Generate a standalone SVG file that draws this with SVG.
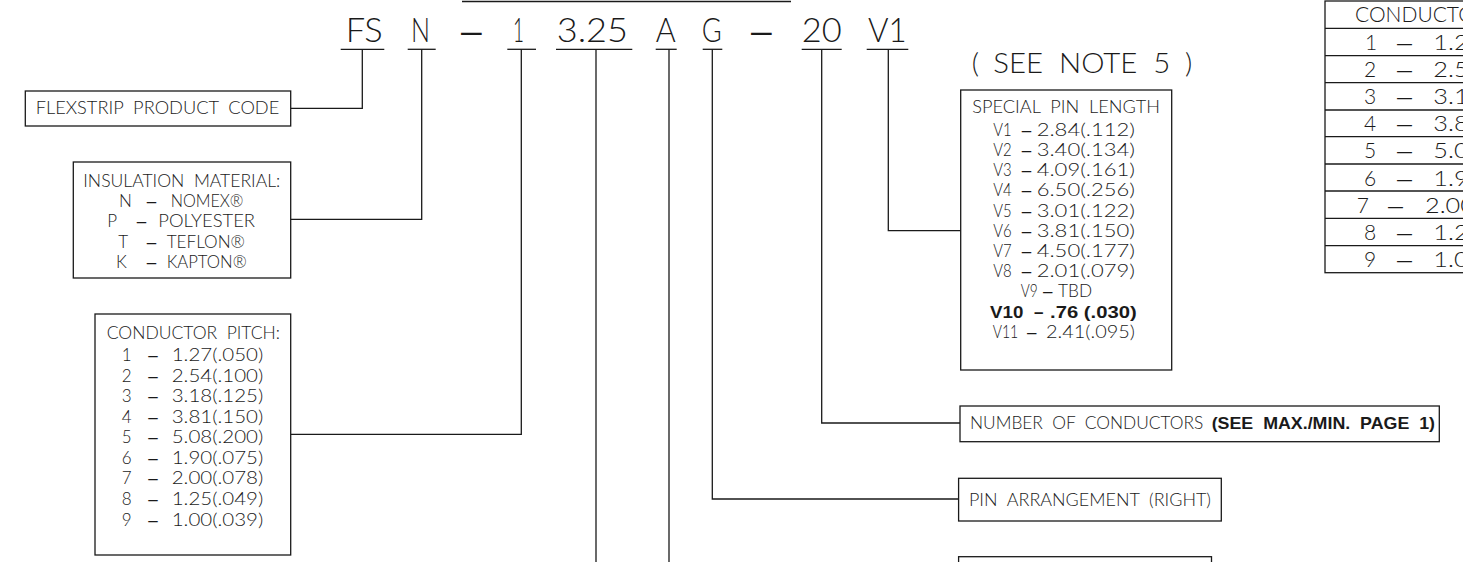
<svg xmlns="http://www.w3.org/2000/svg" width="1463" height="562" viewBox="0 0 1463 562">
<style>
  text { font-family: Lato, "Liberation Sans", Arial, sans-serif; font-weight: 300; fill: #1a1a1a; }
  .t { font-size: 17px; }
  .b { font-size: 17px; font-weight: bold; font-family: "Liberation Sans", Arial, sans-serif; }
  .code { font-size: 34px; }
  .note { font-size: 28px; }
  .tbl { font-size: 21px; }
  text.d { font-family: "Liberation Sans", Arial, sans-serif; font-weight: normal; }
  .box { fill: #fff; stroke: #1a1a1a; stroke-width: 1.3; }
  .ln { fill: none; stroke: #1a1a1a; stroke-width: 1.3; }
</style>
<rect width="1463" height="562" fill="#fff"/>

<g id="code">
  <line class="ln" x1="462" y1="1.5" x2="791" y2="1.5"/>
  <text class="code" x="345.7" y="42" textLength="37" lengthAdjust="spacingAndGlyphs">FS</text>
  <text class="code" x="411" y="42" textLength="19" lengthAdjust="spacingAndGlyphs">N</text>
  <text class="code d" x="461" y="42" textLength="20.7" lengthAdjust="spacingAndGlyphs">–</text>
  <text class="code" x="513" y="42" textLength="11" lengthAdjust="spacingAndGlyphs">1</text>
  <text class="code" x="556.7" y="42" textLength="71.3" lengthAdjust="spacingAndGlyphs">3.25</text>
  <text class="code" x="655.7" y="42" textLength="20" lengthAdjust="spacingAndGlyphs">A</text>
  <text class="code" x="701.7" y="42" textLength="20" lengthAdjust="spacingAndGlyphs">G</text>
  <text class="code d" x="751" y="42" textLength="20.7" lengthAdjust="spacingAndGlyphs">–</text>
  <text class="code" x="801.7" y="42" textLength="40" lengthAdjust="spacingAndGlyphs">20</text>
  <text class="code" x="868" y="42" textLength="38.7" lengthAdjust="spacingAndGlyphs">V1</text>
  <line class="ln" x1="340.7" y1="49.3" x2="384.3" y2="49.3"/>
  <line class="ln" x1="407.7" y1="49.3" x2="435.7" y2="49.3"/>
  <line class="ln" x1="507.3" y1="49.3" x2="536" y2="49.3"/>
  <line class="ln" x1="556" y1="49.3" x2="632.3" y2="49.3"/>
  <line class="ln" x1="655.7" y1="49.3" x2="676.7" y2="49.3"/>
  <line class="ln" x1="702.7" y1="49.3" x2="722.3" y2="49.3"/>
  <line class="ln" x1="801.7" y1="49.3" x2="841.7" y2="49.3"/>
  <line class="ln" x1="866.7" y1="49.3" x2="908.3" y2="49.3"/>
</g>

<g id="connectors">
  <polyline class="ln" points="362.3,49.3 362.3,108.3 290.7,108.3"/>
  <polyline class="ln" points="421.7,49.3 421.7,219.3 290.7,219.3"/>
  <polyline class="ln" points="521.3,49.3 521.3,434.3 290.7,434.3"/>
  <line class="ln" x1="596" y1="49.3" x2="596" y2="562"/>
  <line class="ln" x1="669" y1="49.3" x2="669" y2="562"/>
  <polyline class="ln" points="712.3,49.3 712.3,499 958.6,499"/>
  <polyline class="ln" points="821.7,49.3 821.7,423 960,423"/>
  <polyline class="ln" points="888.3,49.3 888.3,230.7 960.7,230.7"/>
</g>

<g id="flexstrip">
  <rect class="box" x="25.3" y="91" width="265.4" height="35"/>
  <text class="t" x="35.7" y="114" textLength="243.6" lengthAdjust="spacingAndGlyphs" xml:space="preserve">FLEXSTRIP  PRODUCT  CODE</text>
</g>

<g id="insulation">
  <rect class="box" x="73.3" y="162" width="217.4" height="116"/>
  <text class="t" x="83.3" y="186.7" textLength="197" lengthAdjust="spacingAndGlyphs" xml:space="preserve">INSULATION  MATERIAL:</text>
  <text class="t" x="119" y="207.3">N</text><text class="t d" x="146.7" y="207.3">–</text><text class="t" x="170.7" y="207.3" textLength="72.6" lengthAdjust="spacingAndGlyphs">NOMEX®</text>
  <text class="t" x="107.3" y="227.3">P</text><text class="t d" x="136.7" y="227.3">–</text><text class="t" x="158.3" y="227.3" textLength="96.7" lengthAdjust="spacingAndGlyphs">POLYESTER</text>
  <text class="t" x="118.3" y="248.3">T</text><text class="t d" x="146.7" y="248.3">–</text><text class="t" x="166.7" y="248.3" textLength="78.3" lengthAdjust="spacingAndGlyphs">TEFLON®</text>
  <text class="t" x="116" y="268.3">K</text><text class="t d" x="146.7" y="268.3">–</text><text class="t" x="166.7" y="268.3" textLength="80" lengthAdjust="spacingAndGlyphs">KAPTON®</text>
</g>

<g id="pitch">
  <rect class="box" x="95" y="314" width="195.7" height="241"/>
  <text class="t" x="106.7" y="339.3" textLength="173.3" lengthAdjust="spacingAndGlyphs" xml:space="preserve">CONDUCTOR  PITCH:</text>
  <text class="t" x="121.7" y="361">1</text><text class="t d" x="148.3" y="361">–</text><text class="t" x="171.7" y="361" textLength="91.6" lengthAdjust="spacingAndGlyphs">1.27(.050)</text>
  <text class="t" x="121.7" y="381.7">2</text><text class="t d" x="148.3" y="381.7">–</text><text class="t" x="171.7" y="381.7" textLength="91.6" lengthAdjust="spacingAndGlyphs">2.54(.100)</text>
  <text class="t" x="121.7" y="402.3">3</text><text class="t d" x="148.3" y="402.3">–</text><text class="t" x="171.7" y="402.3" textLength="91.6" lengthAdjust="spacingAndGlyphs">3.18(.125)</text>
  <text class="t" x="121.7" y="422.7">4</text><text class="t d" x="148.3" y="422.7">–</text><text class="t" x="171.7" y="422.7" textLength="91.6" lengthAdjust="spacingAndGlyphs">3.81(.150)</text>
  <text class="t" x="121.7" y="443.3">5</text><text class="t d" x="148.3" y="443.3">–</text><text class="t" x="171.7" y="443.3" textLength="91.6" lengthAdjust="spacingAndGlyphs">5.08(.200)</text>
  <text class="t" x="121.7" y="464">6</text><text class="t d" x="148.3" y="464">–</text><text class="t" x="171.7" y="464" textLength="91.6" lengthAdjust="spacingAndGlyphs">1.90(.075)</text>
  <text class="t" x="121.7" y="484.3">7</text><text class="t d" x="148.3" y="484.3">–</text><text class="t" x="171.7" y="484.3" textLength="91.6" lengthAdjust="spacingAndGlyphs">2.00(.078)</text>
  <text class="t" x="121.7" y="505">8</text><text class="t d" x="148.3" y="505">–</text><text class="t" x="171.7" y="505" textLength="91.6" lengthAdjust="spacingAndGlyphs">1.25(.049)</text>
  <text class="t" x="121.7" y="525.7">9</text><text class="t d" x="148.3" y="525.7">–</text><text class="t" x="171.7" y="525.7" textLength="91.6" lengthAdjust="spacingAndGlyphs">1.00(.039)</text>
</g>

<g id="see-note">
  <text class="note" x="971.7" y="73.3">(</text>
  <text class="note" x="993.3" y="73.3" textLength="177" lengthAdjust="spacingAndGlyphs" xml:space="preserve">SEE  NOTE  5</text>
  <text class="note" x="1185" y="73.3">)</text>
</g>

<g id="special-pin">
  <rect class="box" x="960.7" y="90" width="211" height="280"/>
  <text class="t" x="972.3" y="112.7" textLength="187.7" lengthAdjust="spacingAndGlyphs" xml:space="preserve">SPECIAL  PIN  LENGTH</text>
  <text class="t" x="993.3" y="135.7" textLength="18.4" lengthAdjust="spacingAndGlyphs">V1</text><text class="t d" x="1021.7" y="135.7">–</text><text class="t" x="1036.7" y="135.7" textLength="98.3" lengthAdjust="spacingAndGlyphs">2.84(.112)</text>
  <text class="t" x="993.3" y="155.7" textLength="18.4" lengthAdjust="spacingAndGlyphs">V2</text><text class="t d" x="1021.7" y="155.7">–</text><text class="t" x="1036.7" y="155.7" textLength="98.3" lengthAdjust="spacingAndGlyphs">3.40(.134)</text>
  <text class="t" x="993.3" y="176" textLength="18.4" lengthAdjust="spacingAndGlyphs">V3</text><text class="t d" x="1021.7" y="176">–</text><text class="t" x="1036.7" y="176" textLength="98.3" lengthAdjust="spacingAndGlyphs">4.09(.161)</text>
  <text class="t" x="993.3" y="196" textLength="18.4" lengthAdjust="spacingAndGlyphs">V4</text><text class="t d" x="1021.7" y="196">–</text><text class="t" x="1036.7" y="196" textLength="98.3" lengthAdjust="spacingAndGlyphs">6.50(.256)</text>
  <text class="t" x="993.3" y="216.7" textLength="18.4" lengthAdjust="spacingAndGlyphs">V5</text><text class="t d" x="1021.7" y="216.7">–</text><text class="t" x="1036.7" y="216.7" textLength="98.3" lengthAdjust="spacingAndGlyphs">3.01(.122)</text>
  <text class="t" x="993.3" y="236.7" textLength="18.4" lengthAdjust="spacingAndGlyphs">V6</text><text class="t d" x="1021.7" y="236.7">–</text><text class="t" x="1036.7" y="236.7" textLength="98.3" lengthAdjust="spacingAndGlyphs">3.81(.150)</text>
  <text class="t" x="993.3" y="256.7" textLength="18.4" lengthAdjust="spacingAndGlyphs">V7</text><text class="t d" x="1021.7" y="256.7">–</text><text class="t" x="1036.7" y="256.7" textLength="98.3" lengthAdjust="spacingAndGlyphs">4.50(.177)</text>
  <text class="t" x="993.3" y="277.3" textLength="18.4" lengthAdjust="spacingAndGlyphs">V8</text><text class="t d" x="1021.7" y="277.3">–</text><text class="t" x="1036.7" y="277.3" textLength="98.3" lengthAdjust="spacingAndGlyphs">2.01(.079)</text>
  <text class="t" x="1020.7" y="297.3" textLength="17" lengthAdjust="spacingAndGlyphs">V9</text><text class="t d" x="1043" y="297.3">–</text><text class="t" x="1058" y="297.3" textLength="34" lengthAdjust="spacingAndGlyphs">TBD</text>
  <text class="b" x="990" y="317.7" textLength="33.3" lengthAdjust="spacingAndGlyphs">V10</text><text class="b" x="1034" y="317.7">–</text><text class="b" x="1050" y="317.7" textLength="86.7" lengthAdjust="spacingAndGlyphs">.76 (.030)</text>
  <text class="t" x="992.7" y="337.7" textLength="25.6" lengthAdjust="spacingAndGlyphs">V11</text><text class="t d" x="1027" y="337.7">–</text><text class="t" x="1046" y="337.7" textLength="89" lengthAdjust="spacingAndGlyphs">2.41(.095)</text>
</g>

<g id="num-conductors">
  <rect class="box" x="960" y="406" width="479.3" height="35.7"/>
  <text class="t" x="970" y="429.3" textLength="233.3" lengthAdjust="spacingAndGlyphs" xml:space="preserve">NUMBER  OF  CONDUCTORS</text>
  <text class="b" x="1211.7" y="429.3" textLength="223.3" lengthAdjust="spacingAndGlyphs" xml:space="preserve">(SEE  MAX./MIN.  PAGE  1)</text>
</g>

<g id="pin-arrangement">
  <rect class="box" x="958.6" y="478.3" width="262.7" height="42.7"/>
  <text class="t" x="969" y="505.5" textLength="242" lengthAdjust="spacingAndGlyphs" xml:space="preserve">PIN  ARRANGEMENT  (RIGHT)</text>
</g>

<g id="bottom-box">
  <rect class="box" x="958.6" y="556.7" width="252.9" height="20"/>
</g>

<g id="pitch-table">
  <rect class="box" x="1325" y="1" width="200" height="271.7"/>
  <g class="ln">
    <line x1="1325" y1="28.3" x2="1525" y2="28.3"/>
    <line x1="1325" y1="55.7" x2="1525" y2="55.7"/>
    <line x1="1325" y1="82.7" x2="1525" y2="82.7"/>
    <line x1="1325" y1="110" x2="1525" y2="110"/>
    <line x1="1325" y1="136.7" x2="1525" y2="136.7"/>
    <line x1="1325" y1="164" x2="1525" y2="164"/>
    <line x1="1325" y1="191" x2="1525" y2="191"/>
    <line x1="1325" y1="218.3" x2="1525" y2="218.3"/>
    <line x1="1325" y1="245.7" x2="1525" y2="245.7"/>
  </g>
  <text class="tbl" x="1355" y="21.7" xml:space="preserve">CONDUCTOR  PITCH</text>
  <text class="tbl" x="1365" y="50">1</text><text class="tbl d" x="1397" y="50" textLength="15" lengthAdjust="spacingAndGlyphs">–</text><text class="tbl" x="1433.3" y="50" textLength="113" lengthAdjust="spacingAndGlyphs">1.27(.050)</text>
  <text class="tbl" x="1364" y="77">2</text><text class="tbl d" x="1397" y="77" textLength="15" lengthAdjust="spacingAndGlyphs">–</text><text class="tbl" x="1433.3" y="77" textLength="113" lengthAdjust="spacingAndGlyphs">2.54(.100)</text>
  <text class="tbl" x="1364" y="104.3">3</text><text class="tbl d" x="1397" y="104.3" textLength="15" lengthAdjust="spacingAndGlyphs">–</text><text class="tbl" x="1433.3" y="104.3" textLength="113" lengthAdjust="spacingAndGlyphs">3.18(.125)</text>
  <text class="tbl" x="1364" y="131">4</text><text class="tbl d" x="1397" y="131" textLength="15" lengthAdjust="spacingAndGlyphs">–</text><text class="tbl" x="1433.3" y="131" textLength="113" lengthAdjust="spacingAndGlyphs">3.81(.150)</text>
  <text class="tbl" x="1364" y="158.3">5</text><text class="tbl d" x="1397" y="158.3" textLength="15" lengthAdjust="spacingAndGlyphs">–</text><text class="tbl" x="1433.3" y="158.3" textLength="113" lengthAdjust="spacingAndGlyphs">5.08(.200)</text>
  <text class="tbl" x="1364" y="185.5">6</text><text class="tbl d" x="1397" y="185.5" textLength="15" lengthAdjust="spacingAndGlyphs">–</text><text class="tbl" x="1433.3" y="185.5" textLength="113" lengthAdjust="spacingAndGlyphs">1.90(.075)</text>
  <text class="tbl" x="1356.7" y="212.6">7</text><text class="tbl d" x="1388" y="212.6" textLength="15" lengthAdjust="spacingAndGlyphs">–</text><text class="tbl" x="1425" y="212.6" textLength="113" lengthAdjust="spacingAndGlyphs">2.00(.078)</text>
  <text class="tbl" x="1364" y="240">8</text><text class="tbl d" x="1397" y="240" textLength="15" lengthAdjust="spacingAndGlyphs">–</text><text class="tbl" x="1433.3" y="240" textLength="113" lengthAdjust="spacingAndGlyphs">1.25(.049)</text>
  <text class="tbl" x="1364" y="267">9</text><text class="tbl d" x="1397" y="267" textLength="15" lengthAdjust="spacingAndGlyphs">–</text><text class="tbl" x="1433.3" y="267" textLength="113" lengthAdjust="spacingAndGlyphs">1.00(.039)</text>
</g>
</svg>
